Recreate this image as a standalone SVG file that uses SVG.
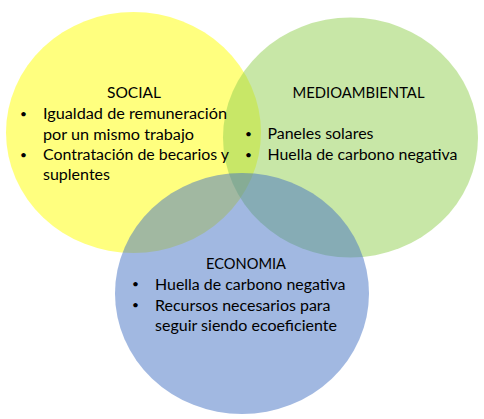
<svg xmlns="http://www.w3.org/2000/svg" width="484" height="419" viewBox="0 0 484 419">
<style>
.c{opacity:0.5}
text{font-family:Lato,"Open Sans","Liberation Sans",sans-serif;font-size:15.5px;fill:#000}
.t{text-anchor:middle}
.b{font-size:12px;text-anchor:middle}
</style>
<rect width="484" height="419" fill="#fff"/>
<g id="social">
<ellipse class="c" cx="133.5" cy="132.5" rx="127.5" ry="120.5" fill="#FFFF00"/>
</g>
<g id="medioambiental">
<ellipse class="c" cx="350.5" cy="137.5" rx="127.5" ry="120" fill="#92D050"/>
</g>
<g id="economia">
<ellipse class="c" cx="242" cy="293.5" rx="127" ry="120.5" fill="#4472C4"/>
</g>
<g id="social-text">
<text class="t" x="134" y="98">SOCIAL</text>
<text class="b" x="23.5" y="117.5">•</text>
<text x="43" y="119" textLength="184" lengthAdjust="spacingAndGlyphs">Igualdad de remuneración</text>
<text x="43" y="139.5" textLength="151" lengthAdjust="spacingAndGlyphs">por un mismo trabajo</text>
<text class="b" x="23.5" y="158.5">•</text>
<text x="43" y="160" textLength="186" lengthAdjust="spacingAndGlyphs">Contratación de becarios y</text>
<text x="43" y="180" textLength="67" lengthAdjust="spacingAndGlyphs">suplentes</text>
</g>
<g id="medioambiental-text">
<text class="t" x="358.5" y="98" textLength="132" lengthAdjust="spacingAndGlyphs">MEDIOAMBIENTAL</text>
<text class="b" x="248.5" y="137.5">•</text>
<text x="267.5" y="139" textLength="106" lengthAdjust="spacingAndGlyphs">Paneles solares</text>
<text class="b" x="248.5" y="158.5">•</text>
<text x="267.5" y="160" textLength="190" lengthAdjust="spacingAndGlyphs">Huella de carbono negativa</text>
</g>
<g id="economia-text">
<text class="t" x="246" y="269" textLength="80" lengthAdjust="spacingAndGlyphs">ECONOMIA</text>
<text class="b" x="135.5" y="288">•</text>
<text x="155" y="289.5" textLength="190.5" lengthAdjust="spacingAndGlyphs">Huella de carbono negativa</text>
<text class="b" x="135.5" y="309">•</text>
<text x="155" y="310.5" textLength="175.5" lengthAdjust="spacingAndGlyphs">Recursos necesarios para</text>
<text x="155" y="331" textLength="182" lengthAdjust="spacingAndGlyphs">seguir siendo ecoeficiente</text>
</g>
</svg>
